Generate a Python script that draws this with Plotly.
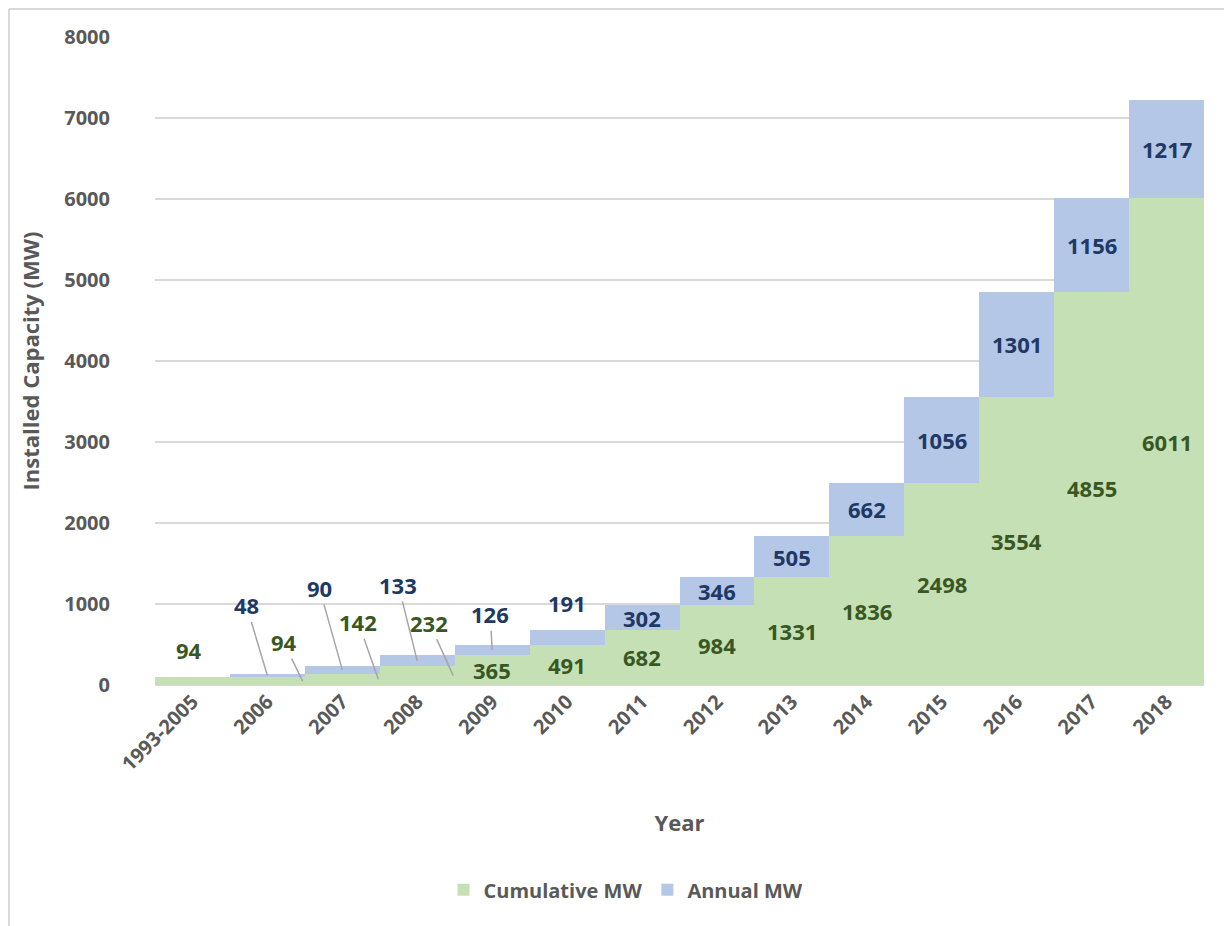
import plotly.graph_objects as go

# ---- data ----
years = ["1993-2005", "2006", "2007", "2008", "2009", "2010", "2011",
         "2012", "2013", "2014", "2015", "2016", "2017", "2018"]
cumulative_mw = [94, 94, 142, 232, 365, 491, 682, 984, 1331, 1836, 2498, 3554, 4855, 6011]
annual_mw = [None, 48, 90, 133, 126, 191, 302, 346, 505, 662, 1056, 1301, 1156, 1217]

# ---- styles ----
GREEN = "#C5E0B4"
BLUE = "#B4C7E7"
GREEN_TXT = "#385723"
BLUE_TXT = "#203864"
GRAY_TXT = "#595959"
GRID = "#D9D9D9"
LEADER = "#A6A6A6"
FONT = "Open Sans"

# label placement styles (pixel offsets); otherwise centered in the segment
# leader entries: (dx in category units, ax, ay)
cum_leaders = {1: (0.47, -19, -39), 2: (0.48, -20, -57), 3: (0.48, -24, -53)}
cum_above = {0: (-3, 27)}
ann_leaders = {1: (0.0, -21, -70), 2: (0.0, -23, -82), 3: (0.0, -19, -76), 4: (0.0, -2, -36)}
ann_above = {5: (0, 27)}

x = list(range(len(years)))

fig = go.Figure()
fig.add_trace(go.Bar(x=x, y=cumulative_mw, name="Cumulative MW",
                     marker=dict(color=GREEN, line=dict(width=0)), width=1))
fig.add_trace(go.Bar(x=x, y=annual_mw, name="Annual MW",
                     marker=dict(color=BLUE, line=dict(width=0)), width=1))

annotations = []
lab_font_g = dict(family=FONT, size=22, color=GREEN_TXT, weight="bold")
lab_font_b = dict(family=FONT, size=22, color=BLUE_TXT, weight="bold")

for i, c in enumerate(cumulative_mw):
    if i in cum_leaders:
        dx, ax, ay = cum_leaders[i]
        annotations.append(dict(x=i + dx, y=c / 2, text=str(c), font=lab_font_g,
                                showarrow=True, arrowhead=0, arrowwidth=1.5,
                                arrowcolor=LEADER, ax=ax, ay=ay, standoff=0))
    elif i in cum_above:
        xs, ys = cum_above[i]
        annotations.append(dict(x=i, y=c, text=str(c), font=lab_font_g,
                                showarrow=False, xshift=xs, yshift=ys))
    else:
        annotations.append(dict(x=i, y=c / 2, text=str(c), font=lab_font_g,
                                showarrow=False))

for i, a in enumerate(annual_mw):
    if a is None:
        continue
    base = cumulative_mw[i]
    if i in ann_leaders:
        dx, ax, ay = ann_leaders[i]
        annotations.append(dict(x=i + dx, y=base + a / 2, text=str(a), font=lab_font_b,
                                showarrow=True, arrowhead=0, arrowwidth=1.5,
                                arrowcolor=LEADER, ax=ax, ay=ay, standoff=0))
    elif i in ann_above:
        xs, ys = ann_above[i]
        annotations.append(dict(x=i, y=base + a, text=str(a), font=lab_font_b,
                                showarrow=False, xshift=xs, yshift=ys))
    else:
        annotations.append(dict(x=i, y=base + a / 2, text=str(a), font=lab_font_b,
                                showarrow=False))

# chart frame (top and left edges)
FX = -0.1392
FY = 1.0432
shapes = [
    dict(type="line", xref="paper", yref="paper", x0=FX, x1=1.05, y0=FY, y1=FY,
         line=dict(color=GRID, width=2)),
    dict(type="line", xref="paper", yref="paper", x0=FX, x1=FX, y0=FY, y1=-0.4,
         line=dict(color=GRID, width=2)),
]

fig.update_layout(
    width=1232, height=926,
    margin=dict(l=147, r=36, t=29, b=249),
    paper_bgcolor="white", plot_bgcolor="white",
    barmode="stack", bargap=0,
    font=dict(family=FONT, color=GRAY_TXT),
    annotations=annotations,
    shapes=shapes,
    showlegend=True,
    legend=dict(orientation="h", x=0.449, xanchor="center", y=-0.316, yanchor="middle",
                traceorder="normal",
                font=dict(family=FONT, size=20, color=GRAY_TXT, weight="bold"),
                itemsizing="constant"),
    xaxis=dict(
        tickmode="array", tickvals=x, ticktext=years, range=[-0.5, len(years) - 0.5],
        tickangle=-45, showgrid=False, zeroline=False, showline=False, ticks="",
        tickfont=dict(family=FONT, size=20, color=GRAY_TXT, weight="bold"),
        title=dict(text="Year", font=dict(family=FONT, size=22, color=GRAY_TXT, weight="bold"),
                   standoff=40),
    ),
    yaxis=dict(
        range=[0, 8000], dtick=1000, showgrid=True, gridcolor=GRID, gridwidth=2,
        zeroline=True, zerolinecolor=GRID, zerolinewidth=2, showline=False, ticks="",
        ticklabelstandoff=44,
        tickfont=dict(family=FONT, size=20, color=GRAY_TXT, weight="bold"),
        title=dict(text="Installed Capacity (MW)",
                   font=dict(family=FONT, size=22, color=GRAY_TXT, weight="bold"),
                   standoff=18),
    ),
)

fig.write_html("out.html")
